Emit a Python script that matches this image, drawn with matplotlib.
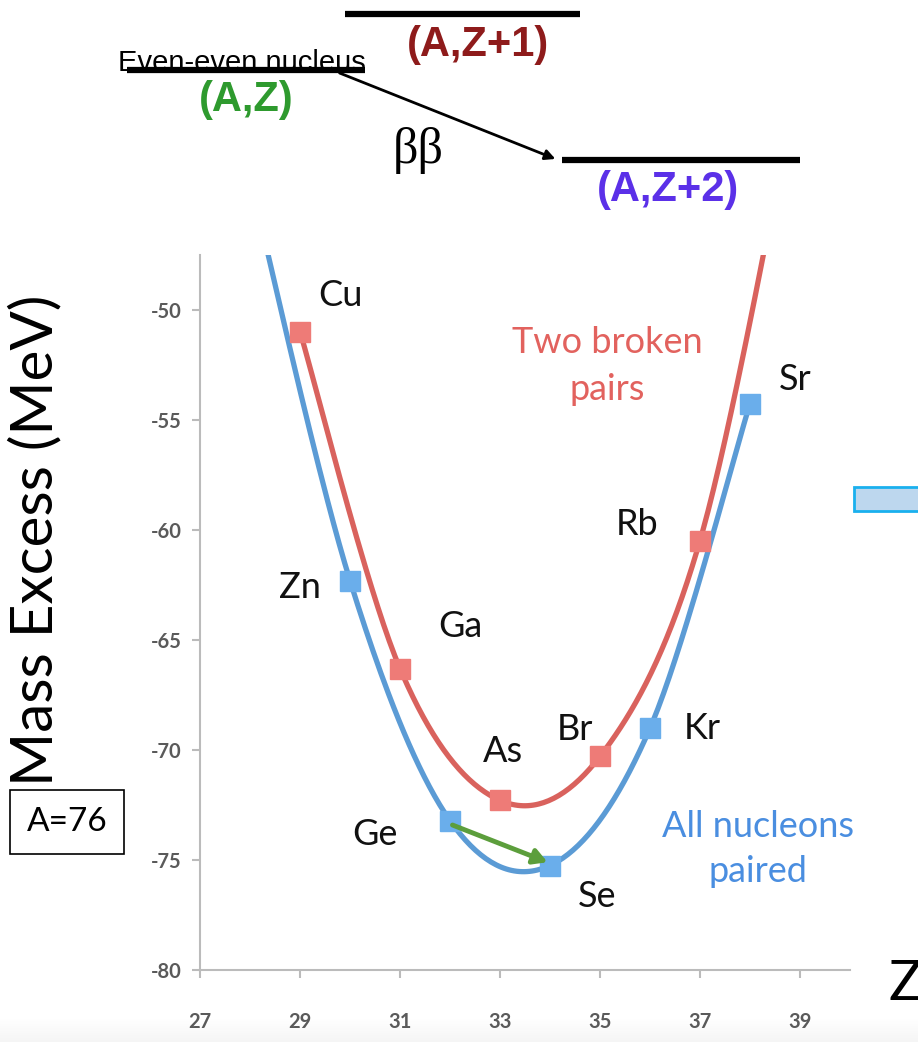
import numpy as np
import matplotlib.pyplot as plt
from matplotlib.patches import Rectangle, FancyArrowPatch
from matplotlib.lines import Line2D

# A=76 isobar mass excesses (MeV)
z_even = [28, 30, 32, 34, 36, 38]
m_even = [-44.0, -62.30, -73.21, -75.25, -69.01, -54.25]
el_even = ['Ni', 'Zn', 'Ge', 'Se', 'Kr', 'Sr']

z_odd = [29, 31, 33, 35, 37, 39]
m_odd = [-50.98, -66.30, -72.29, -70.29, -60.48, -39.0]
el_odd = ['Cu', 'Ga', 'As', 'Br', 'Rb', 'Y']

xticks = [27, 29, 31, 33, 35, 37, 39]
yticks = [-80, -75, -70, -65, -60, -55, -50]

BLUE = '#5B9BD5'
RED = '#D9625D'
BLUE_MK = '#6AAEEB'
RED_MK = '#EE7B77'
LABEL_FONT = ['Lato', 'DejaVu Sans']


def catmull_rom(x, y, n=40):
    """Smooth curve through the points (like a spreadsheet 'smoothed line')."""
    x = np.asarray(x, float)
    y = np.asarray(y, float)
    px = np.concatenate([[x[0]], x, [x[-1]]])
    py = np.concatenate([[y[0]], y, [y[-1]]])
    xs, ys = [], []
    t = np.linspace(0, 1, n)
    h00 = 2 * t**3 - 3 * t**2 + 1
    h10 = t**3 - 2 * t**2 + t
    h01 = -2 * t**3 + 3 * t**2
    h11 = t**3 - t**2
    for i in range(1, len(px) - 2):
        for p, out in ((px, xs), (py, ys)):
            m0 = (p[i + 1] - p[i - 1]) / 2
            m1 = (p[i + 2] - p[i]) / 2
            out.extend(h00 * p[i] + h10 * m0 + h01 * p[i + 1] + h11 * m1)
    return np.array(xs), np.array(ys)


fig = plt.figure(figsize=(9.18, 10.42), dpi=100)
W, H = 918, 1042


def fx(px):
    return px / W


def fy(py):
    return 1 - py / H


# faint grey fade at the bottom of the slide
bg = fig.add_axes([0, 0, 1, fy(1018)], zorder=-5)
bg.imshow(np.linspace(0, 1, 50)[:, None], cmap='Greys', vmin=0, vmax=12, aspect='auto',
          extent=(0, 1, 0, 1), origin='upper')
bg.axis('off')

# ---- top level diagram ----
for x0, x1, yy in [(345, 580, 14), (127, 365, 70), (562, 800, 160)]:
    fig.add_artist(Line2D([fx(x0), fx(x1)], [fy(yy), fy(yy)], color='black', lw=4.5,
                          solid_capstyle='butt'))
fig.add_artist(FancyArrowPatch((fx(337), fy(72)), (fx(558), fy(160)),
                               transform=fig.transFigure, arrowstyle='-|>',
                               mutation_scale=15, lw=2, color='black'))
fig.text(fx(118), fy(71), 'Even-even nucleus', fontsize=21, family='Liberation Sans',
         ha='left', va='baseline', color='black')
fig.text(fx(478), fy(45), '(A,Z+1)', fontsize=30, family='Liberation Sans', weight='bold',
         color='#8E1B1B', ha='center', va='center')
fig.text(fx(246), fy(100), '(A,Z)', fontsize=30, family='Liberation Sans', weight='bold',
         color='#2E9A2E', ha='center', va='center')
fig.text(fx(418), fy(150), 'ββ', fontsize=36, family='Liberation Serif',
         color='black', ha='center', va='center')
fig.text(fx(668), fy(190), '(A,Z+2)', fontsize=30, family='Liberation Sans', weight='bold',
         color='#5B30E8', ha='center', va='center')

# ---- mass parabola plot ----
ax = fig.add_axes([fx(200), fy(970), fx(850) - fx(200), fy(255) - fy(970)])
ax.set_xlim(27, 40)
ax.set_ylim(-80, -47.5)
ax.patch.set_alpha(0)

cx, cy = catmull_rom(z_odd, m_odd)
ax.plot(cx, cy, color=RED, lw=3.8, solid_capstyle='round', zorder=2)
cx, cy = catmull_rom(z_even, m_even)
ax.plot(cx, cy, color=BLUE, lw=3.8, solid_capstyle='round', zorder=2)
ax.plot(z_odd, m_odd, 's', ms=14, color=RED_MK, mec=RED_MK, zorder=3)
ax.plot(z_even, m_even, 's', ms=14, color=BLUE_MK, mec=BLUE_MK, zorder=3)

ax.set_xticks(xticks)
ax.set_yticks(yticks)
ax.set_yticklabels([str(v) for v in yticks])
for s in ('top', 'right'):
    ax.spines[s].set_visible(False)
for s in ('left', 'bottom'):
    ax.spines[s].set_color('#BBBBBB')
    ax.spines[s].set_linewidth(1.5)
ax.tick_params(axis='both', colors='#BBBBBB', labelcolor='#5A5A5A', labelsize=14.5,
               length=6, width=1.5)
ax.tick_params(axis='x', pad=24)
ax.tick_params(axis='y', pad=7)
for lab in ax.get_xticklabels() + ax.get_yticklabels():
    lab.set_family(LABEL_FONT)
    lab.set_weight('bold')

# element labels (offsets in data units from the point)
label_off = {
    'Cu': (0.8, 1.65), 'Zn': (-1.0, -0.3), 'Ga': (1.2, 1.9), 'As': (0.05, 2.2),
    'Br': (-0.5, 1.2), 'Kr': (1.05, 0.0), 'Ge': (-1.5, -0.65), 'Se': (0.95, -1.4),
    'Rb': (-1.25, 0.75), 'Sr': (0.9, 1.1),
}
for z, m, el in list(zip(z_even, m_even, el_even)) + list(zip(z_odd, m_odd, el_odd)):
    if el in label_off:
        dx, dy = label_off[el]
        ax.text(z + dx, m + dy, el, fontsize=26, family=LABEL_FONT, color='#111111',
                ha='center', va='center')

ax.text(35.15, -52.55, 'Two broken\npairs', fontsize=26, family=LABEL_FONT, color='#E2625E',
        ha='center', va='center', linespacing=1.5)
ax.text(38.15, -74.5, 'All nucleons\npaired', fontsize=26, family=LABEL_FONT, color='#4A8EE0',
        ha='center', va='center', linespacing=1.45)

# double beta decay arrow Ge -> Se
ax.annotate('', xy=(z_even[3] - 0.05, m_even[3] + 0.15), xytext=(z_even[2] + 0.05, m_even[2] - 0.2),
            arrowprops=dict(arrowstyle='-|>,head_length=0.8,head_width=0.45', lw=3.5,
                            color='#5C9E3C', shrinkA=0, shrinkB=0), zorder=4)

# axis titles
fig.text(fx(36), fy(540), 'Mass Excess (MeV)', rotation=90, fontsize=42, family=LABEL_FONT,
         ha='center', va='center', color='black')
fig.text(fx(905), fy(985), 'Z', fontsize=40, family=LABEL_FONT, ha='center', va='center')

# A=76 box
fig.text(fx(67), fy(822), 'A=76', fontsize=24, family=LABEL_FONT, ha='center', va='center',
         bbox=dict(boxstyle='square,pad=0.5', fc='white', ec='black', lw=1.2))

# light blue box at right edge
fig.add_artist(Rectangle((fx(854), fy(511)), fx(80), fy(487) - fy(511), transform=fig.transFigure,
                         fc='#BDD7EE', ec='#1AB0EE', lw=2))

fig.savefig('out.png', dpi=100)
